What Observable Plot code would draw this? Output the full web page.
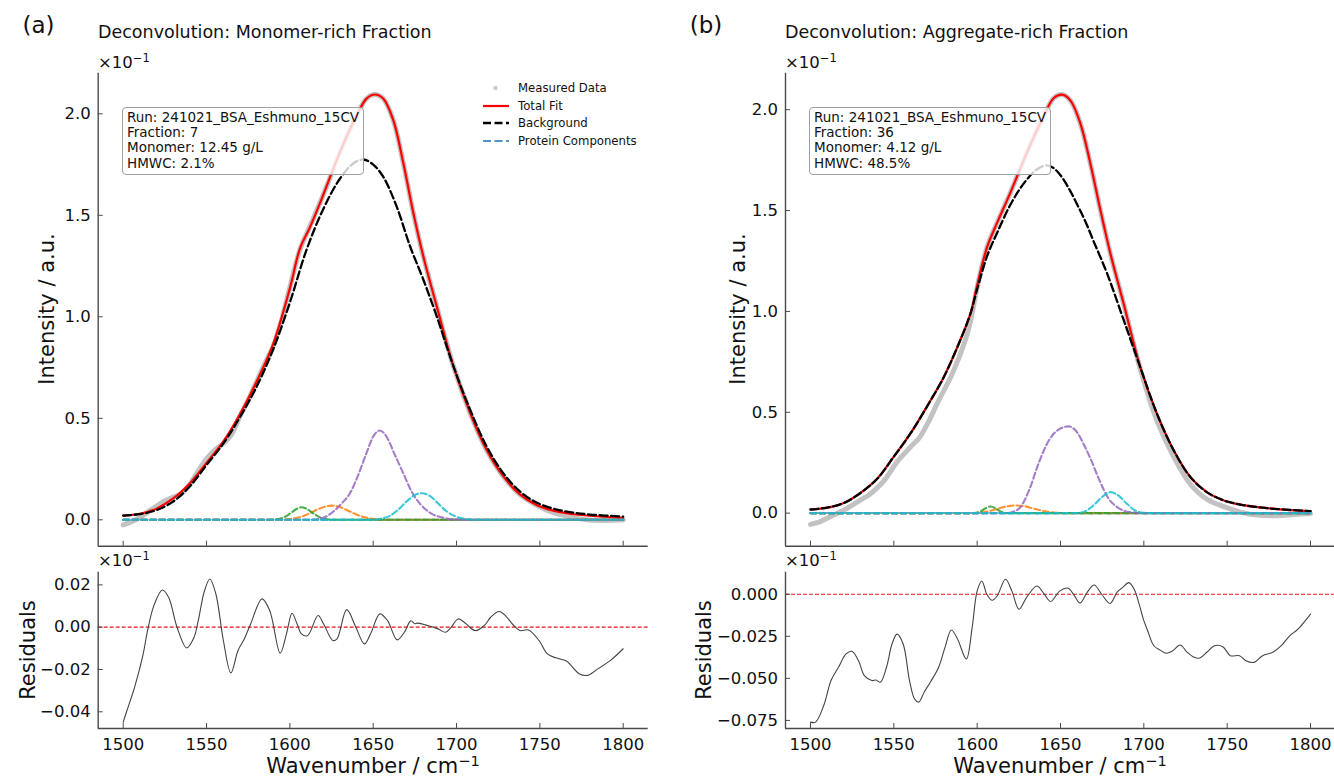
<!DOCTYPE html>
<html><head><meta charset="utf-8">
<script src="https://cdn.jsdelivr.net/npm/d3@7"></script>
<script src="https://cdn.jsdelivr.net/npm/@observablehq/plot@0.6"></script>
<style>
body{margin:0;background:#fff;font-family:"DejaVu Sans",sans-serif;}
#root{position:relative;width:1334px;height:777px;overflow:hidden;background:#fff;}
.abs{position:absolute;white-space:nowrap;color:#111;line-height:1;}
.cc{transform:translate(-50%,-50%);}
.lc{transform:translate(0,-50%);}
.rot{transform:translate(-50%,-50%) rotate(-90deg);}
.panel{font-size:23px;}
.title{font-size:17.5px;}
.mult{font-size:16.5px;}
.mult sup{font-size:11.5px;vertical-align:0;position:relative;top:-6px;}
.alabel{font-size:21px;}
.alabel sup{font-size:14.5px;position:relative;top:-7px;vertical-align:0;}
.info{position:absolute;font-size:13.5px;line-height:15.3px;padding:1.5px 4px 3px 4.3px;border:1px solid #a0a0a0;border-radius:4px;background:rgba(255,255,255,0.8);color:#111;white-space:nowrap;z-index:5;}
.legend{position:absolute;font-size:11.7px;color:#111;z-index:5;}
.legend .row{height:17.6px;display:flex;align-items:center;}
.legend span{margin-left:9px;}
.plot{position:absolute;}
</style></head><body>
<div id="root">
  <div class="abs cc panel" style="left:38.5px;top:25px">(a)</div>
  <div class="abs lc title" style="left:98px;top:33px">Deconvolution: Monomer-rich Fraction</div>
  <div class="abs cc panel" style="left:706px;top:25px">(b)</div>
  <div class="abs lc title" style="left:785px;top:33px">Deconvolution: Aggregate-rich Fraction</div>
</div>
<script>
// ---------------- data ----------------
const wavenumberTicks = [1500, 1550, 1600, 1650, 1700, 1750, 1800];
const intensityTicks = [0, 0.5, 1.0, 1.5, 2.0];
const residualTicksA = [-0.04, -0.02, 0, 0.02];
const residualTicksB = [-0.075, -0.05, -0.025, 0];

// panel (a): monomer-rich fraction (values ×10^-1)
const measuredA = [[1500,-0.025],[1505,-0.01],[1510,0.012],[1515,0.04],[1520,0.068],[1525,0.094],[1530,0.112],[1535,0.13],[1540,0.175],[1545,0.24],[1550,0.3],[1555,0.345],[1560,0.375],[1565,0.42],[1570,0.51],[1575,0.59],[1580,0.68],[1585,0.77],[1590,0.855],[1595,0.985],[1600,1.145],[1606,1.33],[1612,1.445],[1620,1.6],[1630,1.81],[1640,1.99],[1646,2.075],[1651,2.095],[1656,2.075],[1662,1.97],[1668,1.76],[1674,1.515],[1680,1.3],[1688,1.055],[1698,0.76],[1708,0.53],[1718,0.345],[1728,0.215],[1738,0.125],[1748,0.072],[1758,0.035],[1768,0.015],[1778,0.0],[1788,-0.003],[1800,0.0]];
const totalFitA = [[1500,0.021],[1510,0.03],[1520,0.055],[1530,0.105],[1540,0.18],[1550,0.28],[1560,0.385],[1570,0.52],[1580,0.68],[1590,0.867],[1600,1.14],[1606,1.335],[1612,1.44],[1620,1.6],[1630,1.81],[1640,1.99],[1646,2.075],[1651,2.095],[1656,2.075],[1662,1.97],[1668,1.76],[1674,1.515],[1680,1.3],[1688,1.055],[1698,0.76],[1708,0.53],[1718,0.345],[1728,0.215],[1738,0.125],[1748,0.073],[1758,0.045],[1768,0.03],[1780,0.02],[1800,0.01]];
const backgroundA = [[1500,0.021],[1510,0.028],[1520,0.048],[1530,0.09],[1540,0.165],[1550,0.27],[1560,0.375],[1570,0.505],[1580,0.655],[1590,0.84],[1600,1.07],[1610,1.33],[1620,1.53],[1630,1.68],[1638,1.755],[1644,1.775],[1650,1.75],[1656,1.69],[1664,1.545],[1672,1.35],[1680,1.185],[1688,1.005],[1698,0.76],[1708,0.545],[1718,0.362],[1728,0.23],[1738,0.14],[1748,0.085],[1758,0.055],[1768,0.038],[1780,0.026],[1800,0.016]];
const baselineA = [[1500,0],[1800,0]];
const orangeA = [[1500,0],[1595,0],[1600,0.004],[1605,0.011],[1610,0.025],[1615,0.045],[1620,0.062],[1625,0.07],[1630,0.063],[1635,0.045],[1640,0.026],[1645,0.012],[1650,0.004],[1658,0],[1800,0]];
const greenA = [[1500,0],[1588,0],[1595,0.008],[1600,0.03],[1604,0.053],[1607,0.062],[1610,0.054],[1614,0.032],[1619,0.009],[1626,0],[1800,0]];
const purpleA = [[1500,0],[1612,0],[1620,0.01],[1626,0.04],[1631,0.08],[1636,0.13],[1641,0.22],[1646,0.33],[1650,0.41],[1654,0.44],[1658,0.41],[1663,0.32],[1668,0.23],[1673,0.14],[1678,0.08],[1684,0.035],[1692,0.01],[1700,0.002],[1708,0],[1800,0]];
const cyanA = [[1500,0],[1648,0],[1655,0.006],[1660,0.02],[1665,0.05],[1670,0.09],[1675,0.122],[1679,0.131],[1684,0.118],[1689,0.08],[1694,0.042],[1699,0.018],[1705,0.005],[1712,0],[1800,0]];
const residualA = [[1500,-0.0449],[1502,-0.040],[1507,-0.028],[1512,-0.0126],[1514.6,-0.0016],[1518.4,0.0102],[1523.5,0.0176],[1527.3,0.014],[1532.3,0],[1538.1,-0.0098],[1542.4,-0.005],[1545,0.003],[1548.7,0.017],[1552,0.0228],[1555.6,0.0157],[1560.1,-0.0063],[1564.6,-0.0216],[1568.9,-0.011],[1572.7,-0.0055],[1576.5,0.0016],[1583.3,0.0134],[1587.9,0.0079],[1594.2,-0.0123],[1598,-0.003],[1601.3,0.0066],[1604.3,0.0016],[1606.8,-0.003],[1610.6,-0.004],[1616.9,0.0055],[1620.2,0.0016],[1625.8,-0.0063],[1628.3,-0.0055],[1634.1,0.0083],[1639.6,0],[1644.7,-0.0079],[1648.5,-0.003],[1654,0.0063],[1658.6,0.0031],[1664.4,-0.006],[1668.7,-0.0024],[1672.5,0.003],[1675,0.0016],[1676.3,0.0019],[1681.3,0.0011],[1688.9,-0.0008],[1693.4,-0.0024],[1696.5,-0.0003],[1701,0.0039],[1705.3,0.0019],[1711.1,-0.0016],[1716.7,0.0008],[1720.5,0.0047],[1725.5,0.0074],[1729.3,0.0055],[1734.3,0.0008],[1738.1,-0.0016],[1743.2,-0.0013],[1749.5,-0.0063],[1754.5,-0.0126],[1759.6,-0.0145],[1765.9,-0.016],[1773.5,-0.022],[1778.5,-0.0228],[1784.8,-0.0197],[1792.4,-0.0157],[1800,-0.0102]];

// panel (b): aggregate-rich fraction (values ×10^-1)
const measuredB = [[1500,-0.056],[1505,-0.045],[1510,-0.025],[1515,-0.005],[1520,0.015],[1525,0.04],[1530,0.065],[1535,0.09],[1540,0.125],[1545,0.17],[1552,0.255],[1558,0.31],[1562,0.345],[1565,0.37],[1570,0.44],[1577,0.56],[1585,0.69],[1593,0.86],[1596,0.95],[1600,1.12],[1606,1.32],[1612,1.44],[1620,1.59],[1630,1.79],[1640,1.97],[1646,2.058],[1651,2.075],[1656,2.045],[1662,1.93],[1668,1.73],[1674,1.5],[1680,1.285],[1688,1.035],[1698,0.71],[1708,0.455],[1718,0.278],[1728,0.142],[1738,0.068],[1748,0.032],[1758,0.005],[1768,-0.01],[1780,-0.013],[1790,-0.007],[1800,-0.002]];
const totalFitB = [[1500,0.018],[1510,0.027],[1520,0.05],[1530,0.1],[1540,0.17],[1550,0.28],[1560,0.395],[1570,0.53],[1580,0.675],[1590,0.86],[1596,0.99],[1600,1.13],[1606,1.32],[1612,1.44],[1620,1.59],[1630,1.79],[1640,1.97],[1646,2.058],[1651,2.075],[1656,2.045],[1662,1.93],[1668,1.73],[1674,1.5],[1680,1.285],[1688,1.035],[1698,0.72],[1708,0.49],[1718,0.31],[1728,0.178],[1738,0.103],[1748,0.063],[1758,0.042],[1768,0.03],[1780,0.02],[1800,0.01]];
const backgroundB = [[1500,0.018],[1510,0.027],[1520,0.05],[1530,0.1],[1540,0.17],[1550,0.28],[1560,0.395],[1570,0.53],[1580,0.675],[1590,0.86],[1596,0.99],[1600,1.11],[1606,1.275],[1612,1.39],[1620,1.53],[1628,1.635],[1636,1.705],[1642,1.724],[1646,1.71],[1650,1.675],[1655,1.61],[1660,1.53],[1665,1.445],[1670,1.345],[1678,1.187],[1688,0.955],[1698,0.72],[1708,0.49],[1718,0.31],[1728,0.178],[1738,0.103],[1748,0.063],[1758,0.042],[1768,0.03],[1780,0.02],[1800,0.01]];
const baselineB = [[1500,0],[1800,0]];
const orangeB = [[1500,0],[1598,0],[1604,0.005],[1610,0.016],[1616,0.03],[1622,0.038],[1628,0.035],[1634,0.022],[1640,0.01],[1646,0.003],[1652,0],[1800,0]];
const greenB = [[1500,0],[1598,0],[1602,0.008],[1605,0.024],[1608,0.033],[1611,0.024],[1614,0.008],[1618,0],[1800,0]];
const purpleB = [[1500,0],[1618,0],[1622,0.008],[1626,0.03],[1631,0.11],[1637,0.25],[1643,0.36],[1649,0.415],[1655,0.43],[1660,0.4],[1664,0.34],[1668,0.27],[1673,0.17],[1679,0.07],[1684,0.03],[1688,0.012],[1694,0.003],[1700,0],[1800,0]];
const cyanB = [[1500,0],[1660,0],[1665,0.01],[1670,0.04],[1675,0.08],[1680,0.104],[1685,0.085],[1690,0.045],[1695,0.012],[1700,0.002],[1706,0],[1800,0]];
const residualB = [[1500,-0.076],[1503,-0.076],[1508,-0.066],[1512.3,-0.0513],[1516.8,-0.0434],[1521.3,-0.0355],[1524.8,-0.0339],[1528.8,-0.0395],[1532.3,-0.0484],[1536.8,-0.0513],[1539.3,-0.051],[1541.9,-0.0523],[1545.6,-0.0434],[1548.9,-0.0296],[1551.9,-0.0237],[1555.6,-0.0296],[1559.4,-0.0513],[1562.4,-0.0622],[1564.9,-0.0641],[1568.2,-0.0582],[1571.9,-0.0523],[1576.9,-0.0434],[1580.7,-0.0316],[1584.5,-0.0213],[1588.2,-0.0266],[1593.5,-0.0385],[1597,-0.0197],[1600,0.002],[1602.8,0.0079],[1605.8,0],[1609,-0.0036],[1612,-0.001],[1617,0.0089],[1620.8,0.002],[1625.1,-0.0089],[1629.6,-0.002],[1635.8,0.0049],[1639.6,0.001],[1644.1,-0.0043],[1649.6,0.002],[1654.6,0.0036],[1658.4,-0.001],[1661.7,-0.0053],[1665.9,0.001],[1670.2,0.0055],[1674.7,0],[1679.7,-0.0055],[1684.2,0.0016],[1687.2,0.0039],[1691,0.0069],[1694.2,0.003],[1697.2,-0.0059],[1699.7,-0.0148],[1702.3,-0.0217],[1706,-0.0306],[1709.8,-0.0332],[1713.5,-0.0351],[1717.3,-0.0336],[1721.8,-0.0302],[1726,-0.0345],[1730.3,-0.0375],[1733.6,-0.0379],[1737.8,-0.0345],[1742.4,-0.0306],[1747.4,-0.0312],[1751.9,-0.0365],[1757.4,-0.0365],[1761.2,-0.0395],[1766.2,-0.0405],[1771.2,-0.0365],[1777.4,-0.0345],[1782.5,-0.0306],[1787.5,-0.0247],[1792.5,-0.0207],[1800,-0.0118]];

const componentColors = {blue:"#1f77b4", orange:"#ff7f0e", green:"#2ca02c", purple:"#9467bd", cyan:"#17becf"};

// ---------------- drawing ----------------
const AX = "#4a4a4a";
const xDomain = [1485, 1815];
const root = document.getElementById("root");
const baseStyle = {fontFamily:"DejaVu Sans", fontSize:"16.5px", color:"#111", background:"transparent", overflow:"visible"};
const L = (data, o) => Plot.line(data, {x: d => d[0], y: d => d[1], ...o});

function mainPlot(p) {
  return Plot.plot({
    width: p.w, height: 490, marginLeft: p.ml, marginRight: p.mr, marginTop: 12.7, marginBottom: 4.3,
    style: baseStyle,
    x: {domain: xDomain}, y: {domain: p.yd},
    marks: [
      L(p.meas, {stroke:"#9a9a9a", strokeWidth:5, strokeOpacity:0.6, curve:"catmull-rom"}),
      L(p.total, {stroke:"#ff0000", strokeWidth:2.2, curve:"catmull-rom"}),
      L(p.bg, {stroke:"#000", strokeWidth:2.3, strokeDasharray:"8,3.5", curve:"catmull-rom"}),
      ...p.comps.map(([data, c]) => L(data, {stroke: componentColors[c], strokeWidth:2.1, strokeOpacity:0.85, strokeDasharray:"6,3", curve:"monotone-x"})),
      Plot.ruleX([xDomain[0]], {stroke: AX, strokeWidth: 1.4}),
      Plot.ruleY([p.yd[0]], {stroke: AX, strokeWidth: 1.4}),
      Plot.axisX({ticks: wavenumberTicks, tickSize: -5, tickFormat: () => "", label: null, stroke: AX}),
      Plot.axisY({ticks: intensityTicks, tickSize: -5, tickPadding: 12.5, tickFormat: d3.format(".1f"), label: null, stroke: AX})
    ]
  });
}
function residPlot(p) {
  return Plot.plot({
    width: p.w, height: 217, marginLeft: p.ml, marginRight: p.mr, marginTop: 11.7, marginBottom: 49,
    style: baseStyle,
    x: {domain: xDomain}, y: {domain: p.yd},
    marks: [
      Plot.ruleY([0], {stroke:"#e8141c", strokeWidth:1.2, strokeDasharray:"4,2"}),
      L(p.resid, {stroke:"#444", strokeWidth:1.1, curve:"catmull-rom"}),
      Plot.ruleX([xDomain[0]], {stroke: AX, strokeWidth: 1.4}),
      Plot.ruleY([p.yd[0]], {stroke: AX, strokeWidth: 1.4}),
      Plot.axisX({ticks: wavenumberTicks, tickSize: -5, tickPadding: 15, tickFormat: d3.format("d"), label: null, stroke: AX}),
      Plot.axisY({ticks: p.ticks, tickSize: -5, tickPadding: 12.5, tickFormat: d3.format(p.fmt), label: null, stroke: AX})
    ]
  });
}
function place(node, left, top) {
  node.classList.add("plot");
  node.style.left = left + "px"; node.style.top = top + "px";
  root.appendChild(node);
}
function addText(html, cls, left, top) {
  const d = document.createElement("div");
  d.className = "abs " + cls; d.innerHTML = html;
  d.style.left = left + "px"; d.style.top = top + "px";
  root.appendChild(d);
}

// panel (a)
place(mainPlot({w:660, ml:97.7, mr:12.3, yd:[-0.130, 2.200], meas:measuredA, total:totalFitA, bg:backgroundA,
  comps:[[baselineA,"blue"],[orangeA,"orange"],[greenA,"green"],[purpleA,"purple"],[cyanA,"cyan"]]}), 0, 60);
place(residPlot({w:660, ml:97.7, mr:12.3, yd:[-0.0479, 0.026], resid:residualA, ticks:residualTicksA, fmt:".2f"}), 0, 560);
// panel (b)
place(mainPlot({w:645, ml:95, mr:0, yd:[-0.164, 2.181], meas:measuredB, total:totalFitB, bg:backgroundB,
  comps:[[baselineB,"blue"],[orangeB,"orange"],[greenB,"green"],[purpleB,"purple"],[cyanB,"cyan"]]}), 690, 60);
place(residPlot({w:645, ml:95, mr:0, yd:[-0.0798, 0.0131], resid:residualB, ticks:residualTicksB, fmt:".3f"}), 690, 560);

// axis decorations
const mult = "×10<sup>−1</sup>";
addText(mult, "lc mult", 98, 62.5); addText(mult, "lc mult", 98, 561);
addText(mult, "lc mult", 785, 62.5); addText(mult, "lc mult", 785, 561);
addText("Intensity / a.u.", "rot alabel", 47, 309);
addText("Intensity / a.u.", "rot alabel", 738, 309);
addText("Residuals", "rot alabel", 28, 650);
addText("Residuals", "rot alabel", 704, 650);
addText("Wavenumber / cm<sup>−1</sup>", "cc alabel", 373, 766);
addText("Wavenumber / cm<sup>−1</sup>", "cc alabel", 1060, 766);

// info boxes
function info(lines, left, top) {
  const d = document.createElement("div");
  d.className = "info"; d.innerHTML = lines.join("<br>");
  d.style.left = left + "px"; d.style.top = top + "px";
  root.appendChild(d);
}
info(["Run: 241021_BSA_Eshmuno_15CV", "Fraction: 7", "Monomer: 12.45 g/L", "HMWC: 2.1%"], 121.7, 107.3);
info(["Run: 241021_BSA_Eshmuno_15CV", "Fraction: 36", "Monomer: 4.12 g/L", "HMWC: 48.5%"], 808.7, 107.3);

// legend (panel a)
const lg = document.createElement("div");
lg.className = "legend"; lg.style.left = "483px"; lg.style.top = "79.5px";
lg.innerHTML = `
 <div class="row"><svg width="26" height="10"><circle cx="12.5" cy="5" r="2.3" fill="#cfcfcf"/></svg><span>Measured Data</span></div>
 <div class="row"><svg width="26" height="10"><line x1="0" y1="5" x2="26" y2="5" stroke="#ff0000" stroke-width="2.2"/></svg><span>Total Fit</span></div>
 <div class="row"><svg width="26" height="10"><line x1="0" y1="5" x2="26" y2="5" stroke="#000" stroke-width="2.3" stroke-dasharray="8,3.5"/></svg><span>Background</span></div>
 <div class="row"><svg width="26" height="10"><line x1="0" y1="5" x2="26" y2="5" stroke="#1f77b4" stroke-opacity="0.8" stroke-width="2" stroke-dasharray="8,3.5"/></svg><span>Protein Components</span></div>`;
root.appendChild(lg);
</script>
</body></html>
